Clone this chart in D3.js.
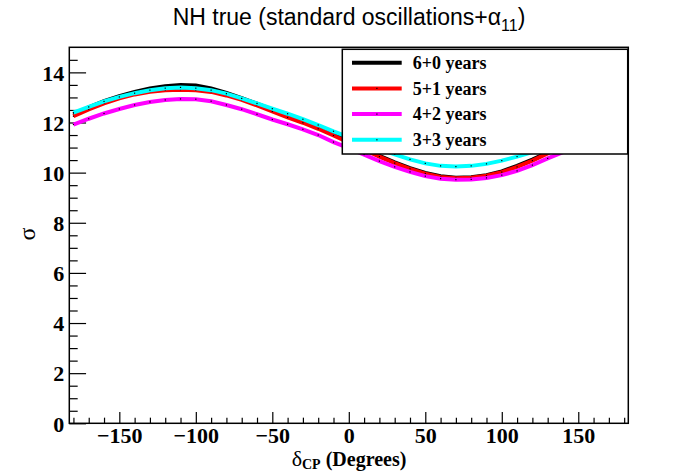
<!DOCTYPE html>
<html>
<head>
<meta charset="utf-8">
<script src="https://cdn.jsdelivr.net/npm/d3@7"></script>
<style>
  body { margin: 0; background: #fff; }
  svg { display: block; }
</style>
</head>
<body>
<div id="chart"></div>
<script>
// delta_CP grid (degrees)
var deltaCP = [-180, -170, -160, -150, -140, -130, -120, -110, -100, -90, -80, -70, -60,
  -50, -40, -30, -20, -10, 0, 10, 20, 30, 40, 50, 60, 70, 80, 90, 100, 110, 120,
  130, 140, 150, 160, 170, 180];

// sigma values
var sigma60 = [12.33, 12.6, 12.85, 13.05, 13.22, 13.36, 13.45, 13.5, 13.48, 13.36, 13.18,
  12.97, 12.75, 12.5, 12.26, 12.05, 11.8, 11.53, 11.25, 10.96, 10.67, 10.41, 10.18,
  9.99, 9.86, 9.8, 9.82, 9.9, 10.05, 10.27, 10.52, 10.8, 11.1, 11.4, 11.7, 12.02, 12.33];
var sigma51 = [12.25, 12.52, 12.76, 12.96, 13.12, 13.23, 13.29, 13.31, 13.29, 13.22, 13.08,
  12.9, 12.68, 12.44, 12.2, 11.99, 11.75, 11.48, 11.2, 10.92, 10.64, 10.38, 10.15,
  9.96, 9.83, 9.78, 9.8, 9.88, 10.02, 10.23, 10.48, 10.77, 11.07, 11.38, 11.68, 11.97, 12.25];
var sigma42 = [11.92, 12.15, 12.36, 12.54, 12.7, 12.82, 12.9, 12.94, 12.93, 12.85, 12.7,
  12.53, 12.33, 12.12, 11.93, 11.73, 11.5, 11.22, 10.98, 10.72, 10.46, 10.23, 10.03,
  9.86, 9.76, 9.72, 9.73, 9.79, 9.9, 10.07, 10.3, 10.57, 10.82, 11.1, 11.38, 11.65, 11.92];
var sigma33 = [12.39, 12.62, 12.84, 13.02, 13.17, 13.29, 13.37, 13.4, 13.37, 13.29, 13.15,
  12.96, 12.76, 12.55, 12.35, 12.13, 11.9, 11.65, 11.42, 11.18, 10.95, 10.73, 10.53,
  10.37, 10.27, 10.24, 10.27, 10.35, 10.48, 10.64, 10.82, 11.05, 11.3, 11.57, 11.84, 12.12, 12.39];

var seriesNames = ["6+0 years", "5+1 years", "4+2 years", "3+3 years"];
var seriesColors = ["#000000", "#ff0000", "#ff00ff", "#00ffff"];
var seriesValues = [sigma60, sigma51, sigma42, sigma33];

var xMajorTicks = [-150, -100, -50, 0, 50, 100, 150];
var yMajorTicks = [0, 2, 4, 6, 8, 10, 12, 14];

var width = 698, height = 471;
var frame = { left: 69.3, right: 628.3, top: 47.3, bottom: 423.3 };

var svg = d3.select("#chart").append("svg")
  .attr("width", width)
  .attr("height", height);

var x = d3.scaleLinear().domain([-182.7, 182.7]).range([frame.left, frame.right]);
var y = d3.scaleLinear().domain([0, 15]).range([frame.bottom, frame.top]);

var serif = "'Liberation Serif', 'Times New Roman', serif";
var sans = "'Liberation Sans', Arial, Helvetica, sans-serif";

// minor ticks: every 10 deg and every 0.5 sigma
var xMinor = [];
for (var v = -180; v <= 180; v += 10) if (xMajorTicks.indexOf(v) < 0) xMinor.push(v);
var yMinor = [];
for (var w = 0; w < 15; w += 0.5) if (yMajorTicks.indexOf(w) < 0) yMinor.push(w);

var xLen = 0.03 * (frame.bottom - frame.top);
var yLen = 0.03 * (frame.right - frame.left);

var gx = svg.append("g").attr("transform", "translate(0," + frame.bottom + ")");
gx.call(d3.axisBottom(x).tickValues(xMinor).tickSizeInner(-xLen / 2).tickSizeOuter(0).tickFormat(""));
var gx2 = svg.append("g").attr("transform", "translate(0," + frame.bottom + ")");
gx2.call(d3.axisBottom(x).tickValues(xMajorTicks).tickSizeInner(-xLen).tickSizeOuter(0).tickPadding(5));

var gy = svg.append("g").attr("transform", "translate(" + frame.left + ",0)");
gy.call(d3.axisLeft(y).tickValues(yMinor).tickSizeInner(-yLen / 2).tickSizeOuter(0).tickFormat(""));
var gy2 = svg.append("g").attr("transform", "translate(" + frame.left + ",0)");
gy2.call(d3.axisLeft(y).tickValues(yMajorTicks).tickSizeInner(-yLen).tickSizeOuter(0).tickPadding(5));

svg.selectAll(".domain").remove();
svg.selectAll(".tick line").attr("stroke", "#000").attr("stroke-width", 1.2);
svg.selectAll(".tick text")
  .attr("fill", "#000")
  .style("font-family", serif)
  .style("font-weight", "bold")
  .style("font-size", "22px");
gy2.selectAll(".tick text").attr("dy", "0.35em");
gx2.selectAll(".tick text").attr("dy", "0.68em");

// curves
var line = d3.line()
  .x(function (d, i) { return x(deltaCP[i]); })
  .y(function (d) { return y(d); });

var plot = svg.append("g");
seriesValues.forEach(function (vals, k) {
  plot.append("path")
    .datum(vals)
    .attr("d", line)
    .attr("fill", "none")
    .attr("stroke", seriesColors[k])
    .attr("stroke-width", 4);
  plot.selectAll(".dot" + k)
    .data(vals)
    .enter().append("rect")
    .attr("x", function (d, i) { return x(deltaCP[i]) - 0.6; })
    .attr("y", function (d) { return y(d) - 0.6; })
    .attr("width", 1.2)
    .attr("height", 1.2)
    .attr("fill", "#000");
});

// frame
svg.append("rect")
  .attr("x", frame.left).attr("y", frame.top)
  .attr("width", frame.right - frame.left)
  .attr("height", frame.bottom - frame.top)
  .attr("fill", "none")
  .attr("stroke", "#000")
  .attr("stroke-width", 1.5);

// legend
var leg = svg.append("g");
leg.append("rect")
  .attr("x", 342.3).attr("y", 49.3)
  .attr("width", 285.4).attr("height", 104.7)
  .attr("fill", "#fff")
  .attr("stroke", "#000")
  .attr("stroke-width", 1.5);
seriesNames.forEach(function (name, k) {
  var ly = 62.7 + k * 25.7;
  leg.append("line")
    .attr("x1", 352).attr("x2", 401.7)
    .attr("y1", ly).attr("y2", ly)
    .attr("stroke", seriesColors[k])
    .attr("stroke-width", 4);
  leg.append("rect")
    .attr("x", 376.3).attr("y", ly - 0.6)
    .attr("width", 1.2).attr("height", 1.2)
    .attr("fill", "#000");
  leg.append("text")
    .attr("x", 412.7).attr("y", ly)
    .attr("dy", "0.35em")
    .style("font-family", serif)
    .style("font-weight", "bold")
    .style("font-size", "18px")
    .text(name);
});

// title
var title = svg.append("text")
  .attr("x", 349).attr("y", 25)
  .attr("text-anchor", "middle")
  .style("font-family", sans)
  .style("font-size", "23px");
title.append("tspan").text("NH true (standard oscillations+\u03b1");
title.append("tspan").attr("dy", 6).style("font-size", "16px").text("11");
title.append("tspan").attr("dy", -6).text(")");

// x axis title
var xt = svg.append("text")
  .attr("x", 349).attr("y", 466)
  .attr("text-anchor", "middle")
  .style("font-family", serif)
  .style("font-weight", "bold")
  .style("font-size", "20px");
xt.append("tspan").style("font-weight", "normal").style("font-size", "22px").text("\u03b4");
xt.append("tspan").attr("dy", 3).style("font-size", "14px").text("CP");
xt.append("tspan").attr("dy", -3).text(" (Degrees)");

// y axis title
svg.append("text")
  .attr("transform", "translate(27,234) rotate(-90)")
  .attr("text-anchor", "middle")
  .attr("dy", "0.35em")
  .style("font-family", serif)
  .style("font-size", "24px")
  .text("\u03c3");
</script>
</body>
</html>
